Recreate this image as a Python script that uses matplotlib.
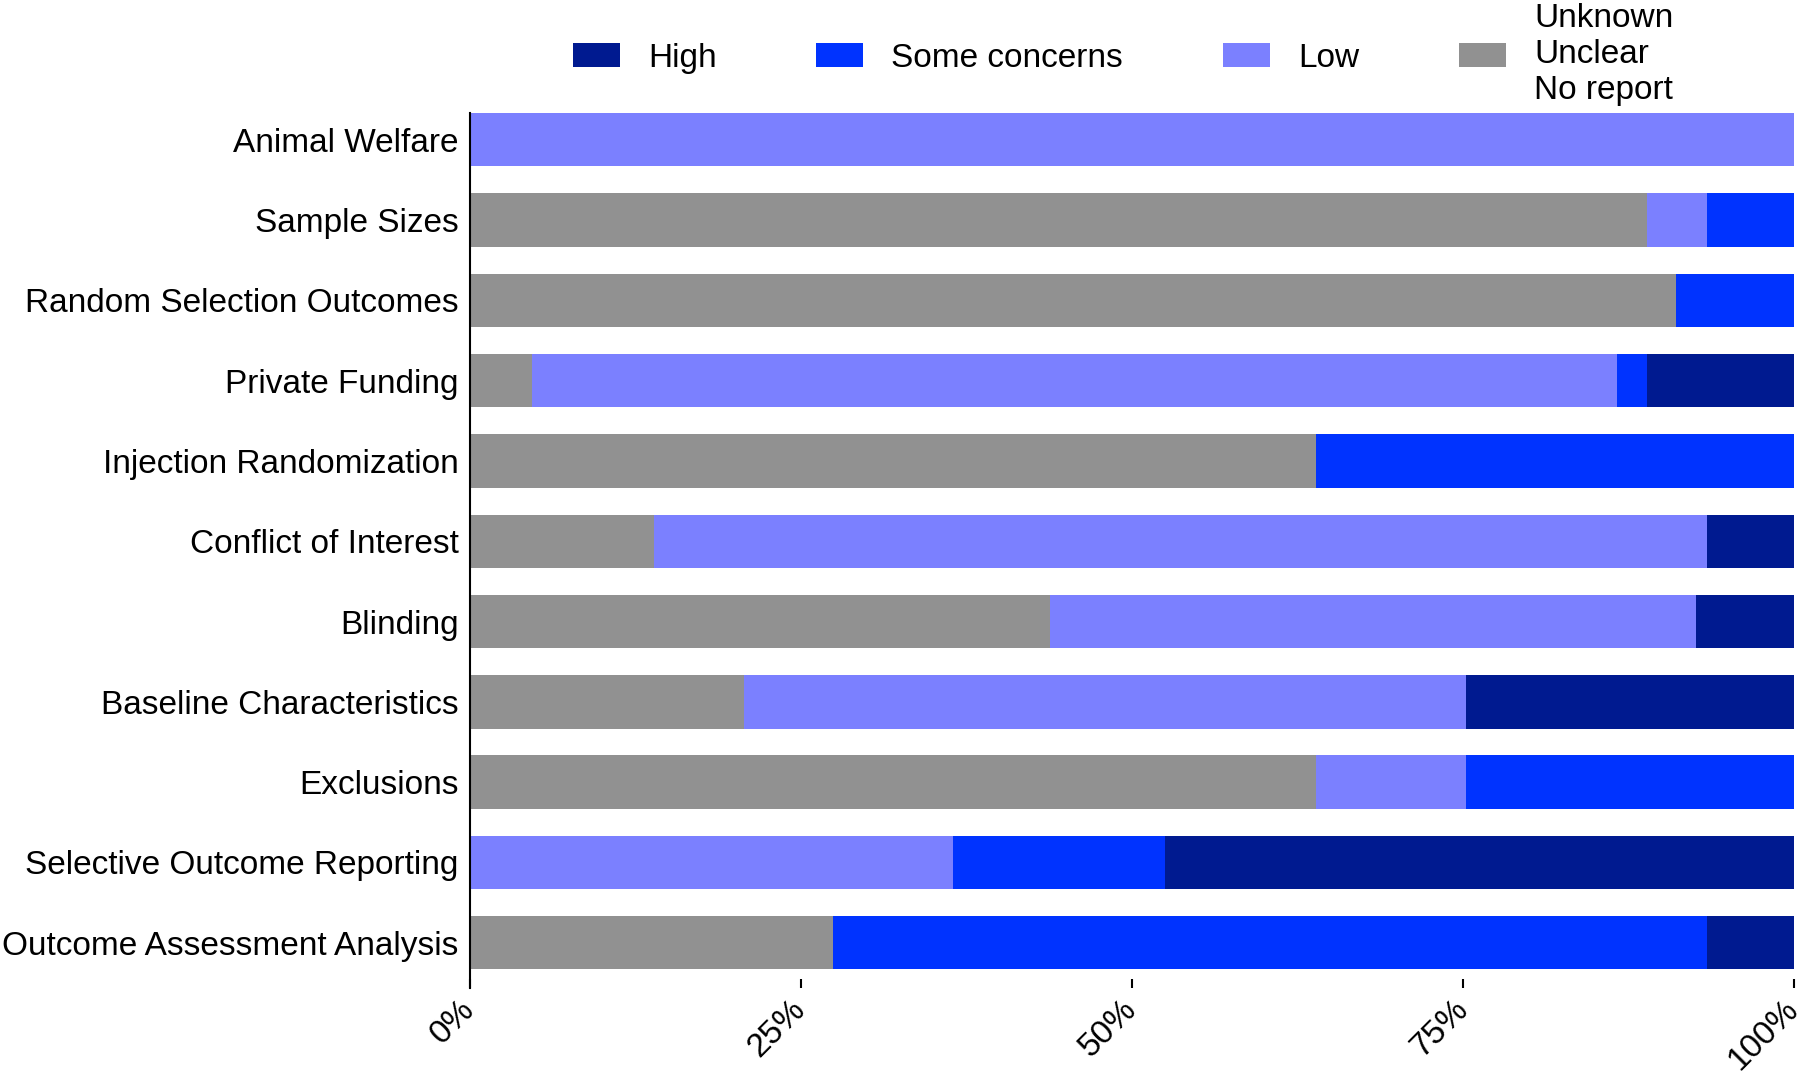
import matplotlib
matplotlib.use('Agg')
import matplotlib.pyplot as plt
import numpy as np

plt.rcParams['font.family'] = ['Liberation Sans', 'DejaVu Sans']

# Risk of bias domains, top to bottom
domains = ['Animal Welfare', 'Sample Sizes', 'Random Selection Outcomes', 'Private Funding',
           'Injection Randomization', 'Conflict of Interest', 'Blinding',
           'Baseline Characteristics', 'Exclusions', 'Selective Outcome Reporting',
           'Outcome Assessment Analysis']

# percentages per judgement
unclear = [0, 88.9, 91.1, 4.7, 63.9, 13.9, 43.8, 20.7, 63.9, 0, 27.4]
low = [100, 4.5, 0, 81.9, 0, 79.5, 48.8, 54.5, 11.3, 36.5, 0]
some = [0, 6.6, 8.9, 2.3, 36.1, 0, 0, 0, 24.8, 16.0, 66.0]
high = [0, 0, 0, 11.1, 0, 6.6, 7.4, 24.8, 0, 47.5, 6.6]

xticks = [0, 25, 50, 75, 100]
xticklabels = ['0%', '25%', '50%', '75%', '100%']

c_high = '#001a90'
c_some = '#0033ff'
c_low = '#7b80ff'
c_unc = '#919191'

fig = plt.figure(figsize=(18, 10.71), dpi=100)
ax = fig.add_axes([0.2611, 0.0775, 0.7356, 0.817])

y = np.arange(len(domains))
h = 0.665
left = np.zeros(len(domains))
series = [(unclear, c_unc, 'Unknown\nUnclear\nNo report'),
          (low, c_low, 'Low'),
          (some, c_some, 'Some concerns'),
          (high, c_high, 'High')]
handles = {}
for vals, col, lab in series:
    b = ax.barh(y, vals, left=left, height=h, color=col, label=lab)
    handles[lab] = b
    left = left + np.array(vals)

ax.set_xlim(0, 100)
ax.set_ylim(10.563, -0.3325)
ax.set_yticks(y)
ax.set_yticklabels(domains, fontsize=24)
ax.set_xticks(xticks)
ax.set_xticklabels(xticklabels, fontsize=24, rotation=45, ha='right', va='center',
                   rotation_mode='anchor')
ax.tick_params(axis='y', length=0, pad=8)
ax.tick_params(axis='x', direction='in', length=6.5, width=1.5, pad=12)
for s in ['top', 'right', 'bottom']:
    ax.spines[s].set_visible(False)
ax.spines['left'].set_linewidth(1.5)

order = ['High', 'Some concerns', 'Low', 'Unknown\nUnclear\nNo report']
fig.legend([handles[k] for k in order], order, loc='center', bbox_to_anchor=(0.624, 0.949),
           ncol=4, frameon=False, fontsize=24, handlelength=1.41, handleheight=0.75,
           handletextpad=0.84, columnspacing=3.0)

fig.savefig('out.png', dpi=100)
